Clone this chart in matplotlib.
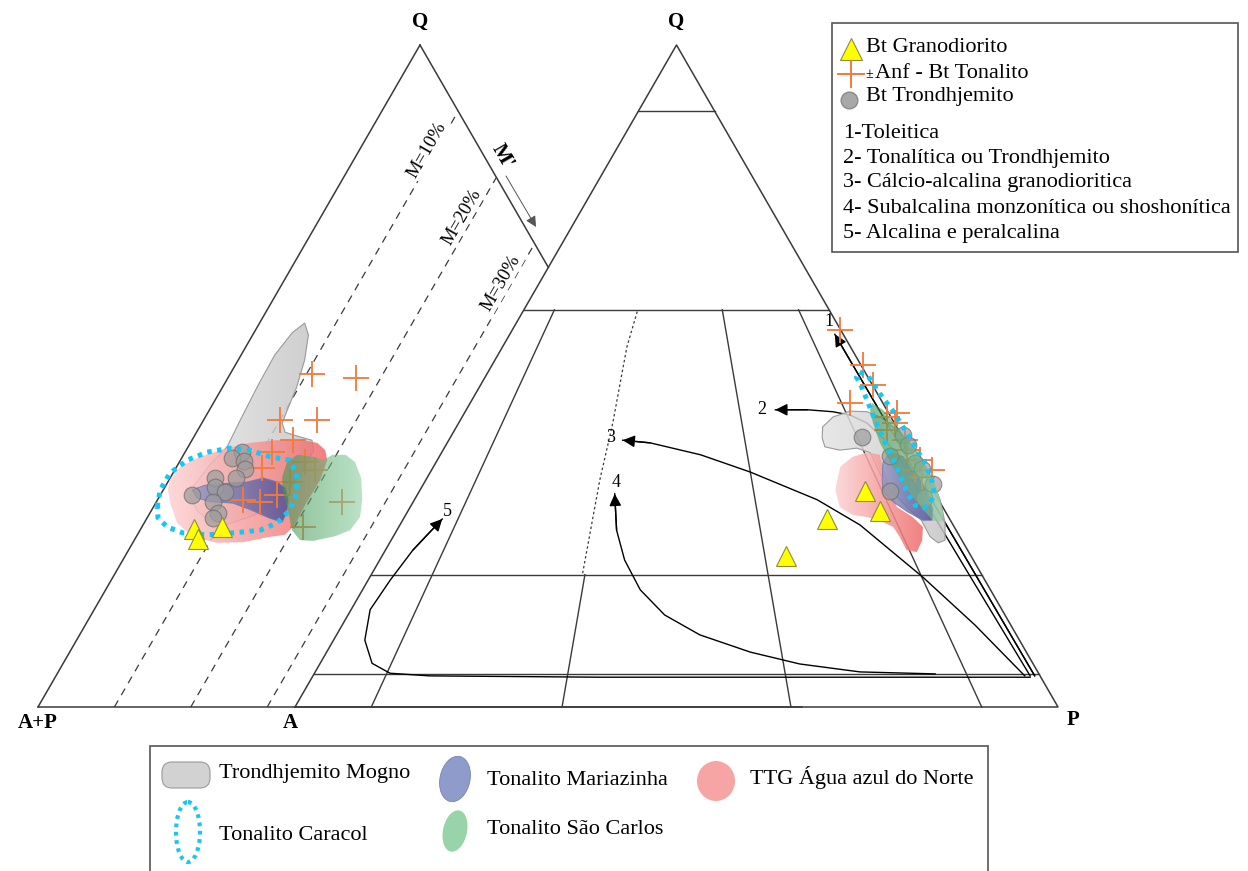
import numpy as np
import matplotlib.pyplot as plt
from matplotlib.patches import Polygon, Rectangle, Ellipse, FancyBboxPatch
from matplotlib.colors import LinearSegmentedColormap

plt.rcParams['font.family'] = ['Liberation Serif', 'DejaVu Serif']

# ---------------- Q - (A+P) - M diagram (left), values: Q %, M %
qm_grano_q = [26.9, 25.4, 27.2]
qm_grano_m = [7.0, 8.3, 10.5]
qm_ton_q = [50.3, 49.7, 43.4, 43.4, 40.3, 38.5, 36.1, 37.0, 35.8, 34.0, 31.3, 31.0, 32.0, 31.0, 27.2]
qm_ton_m = [10.7, 16.8, 10.0, 14.8, 13.2, 11.4, 11.3, 16.4, 18.4, 16.0, 11.2, 13.6, 15.3, 24.3, 21.1]
qm_tdj_q = [38.5, 37.6, 37.2, 36.0, 34.6, 33.2, 32.5, 34.6, 32.0, 31.0, 29.3, 28.5]
qm_tdj_m = [7.4, 6.6, 8.3, 9.1, 5.9, 6.6, 8.2, 8.6, 4.1, 7.4, 8.9, 8.6]

mogno_qm_q = [58.0, 56.2, 52.4, 48.3, 44.9, 42.9, 41.5, 40.8, 40.3, 38.8, 35.0, 31.3, 29.0, 27.6,
              27.9, 29.5, 31.6, 33.5, 36.6, 39.3, 43.4, 48.6, 53.2, 56.5]
mogno_qm_m = [5.9, 7.3, 8.7, 9.7, 10.2, 10.5, 11.6, 13.9, 15.7, 16.7, 16.8, 16.0, 13.9, 11.0,
              8.8, 6.2, 4.1, 3.7, 4.2, 5.1, 4.8, 4.5, 4.4, 5.0]
ttg_qm_q = [34.3, 36.3, 37.8, 39.1, 39.9, 40.3, 40.3, 39.9, 38.8, 37.3, 34.3, 30.5, 27.5, 26.0,
            25.7, 24.9, 24.8, 25.7, 27.8, 30.8, 32.8]
ttg_qm_m = [0.1, 0.5, 2.3, 5.2, 7.8, 11.1, 14.5, 16.6, 18.2, 19.2, 19.8, 19.7, 19.9, 19.3,
            17.5, 14.4, 11.0, 7.4, 4.3, 1.9, 0.6]
scarlos_qm_q = [34.7, 37.0, 38.1, 37.8, 37.3, 38.1, 38.1, 37.0, 34.6, 31.3, 28.7, 26.7, 25.8,
                25.1, 25.2, 26.7, 29.8, 32.5]
scarlos_qm_m = [14.6, 14.1, 14.9, 17.1, 18.7, 19.5, 21.2, 23.0, 25.0, 26.8, 27.8, 27.5, 26.0,
                23.5, 21.7, 19.9, 17.8, 15.8]
mariaz_qm_q = [32.8, 33.5, 33.8, 34.0, 34.6, 34.0, 33.1, 31.3, 29.3, 27.9, 28.5, 29.8, 30.8, 31.0, 31.6]
mariaz_qm_m = [3.8, 5.1, 7.8, 10.4, 12.2, 14.3, 15.8, 17.1, 17.9, 18.0, 16.1, 12.9, 10.1, 7.0, 5.0]
caracol_qm_q = [30.2, 32.8, 35.3, 37.3, 38.5, 39.1, 38.8, 37.8, 37.3, 35.3, 32.3, 29.8, 27.8,
                26.7, 26.3, 26.0, 26.3, 27.2, 28.6]
caracol_qm_m = [0.5, -0.4, -0.4, 0.9, 2.9, 5.6, 8.3, 11.5, 14.3, 16.2, 17.7, 18.1, 17.4,
                15.7, 12.4, 9.1, 5.8, 3.3, 1.4]
m_lines = [10, 20, 30]

# ---------------- Q - A - P diagram (right), values: Q %, P %
qap_grano_q = [32.6, 29.6, 28.4, 22.8]
qap_grano_p = [58.4, 61.9, 55.5, 53.0]
qap_ton_q = [57.0, 51.7, 48.6, 45.9, 43.8, 44.4, 42.9, 41.8, 38.8, 37.3, 34.7, 35.8, 40.3, 35.8]
qap_ton_p = [42.9, 48.6, 51.4, 49.8, 55.7, 56.7, 57.2, 56.7, 60.8, 63.3, 64.8, 65.6, 59.8, 63.4]
qap_tdj_q = [40.8, 37.9, 41.1, 39.6, 36.9, 36.0, 33.7, 32.6, 31.6]
qap_tdj_p = [53.9, 59.0, 59.1, 60.6, 62.8, 64.2, 66.8, 61.7, 66.7]

mogno_qap_q = [40.6, 42.3, 43.8, 44.7, 44.6, 43.8, 41.8, 39.3, 35.3, 31.3, 27.8, 25.2, 24.8,
               25.7, 28.2, 30.2, 32.8, 35.3, 38.4, 39.1, 38.8, 39.3]
mogno_qap_p = [48.8, 48.0, 48.6, 50.4, 52.7, 54.8, 58.0, 61.4, 65.5, 68.9, 71.3, 72.6, 71.9,
               70.4, 68.0, 65.1, 61.6, 59.0, 56.2, 54.1, 52.0, 49.8]
ttg_qap_q = [36.3, 37.8, 38.5, 38.1, 36.3, 30.2, 28.7, 27.2, 25.2, 23.4, 23.7, 25.7, 27.2,
             28.2, 28.7, 29.0, 30.2, 32.8]
ttg_qap_p = [53.3, 54.2, 55.8, 57.6, 58.9, 63.8, 66.6, 68.7, 69.6, 69.8, 68.3, 66.4, 64.8,
             62.5, 60.6, 58.6, 56.3, 54.4]
scarlos_qap_q = [45.9, 44.9, 41.8, 37.8, 33.2, 29.3, 27.9, 28.2, 29.8, 32.8, 36.9, 39.9, 42.9, 44.9]
scarlos_qap_p = [52.7, 54.6, 58.4, 63.0, 67.5, 70.3, 70.8, 69.5, 67.4, 63.8, 59.6, 56.7, 54.3, 52.9]
mariaz_qap_q = [34.3, 36.9, 38.5, 37.8, 35.3, 32.3, 29.8, 28.2, 28.2, 29.5, 31.0, 32.5]
mariaz_qap_p = [59.8, 58.6, 58.7, 60.8, 63.8, 66.8, 68.7, 69.4, 68.2, 65.5, 62.9, 60.8]
caracol_qap_q = [50.6, 50.0, 47.4, 44.9, 41.4, 38.8, 36.9, 34.3, 32.3, 30.8, 30.1, 30.5, 32.2,
                 34.3, 36.4, 39.6, 43.4, 46.7, 48.8, 49.8]
caracol_qap_p = [48.7, 50.1, 52.9, 55.8, 59.5, 62.1, 64.1, 66.3, 67.6, 67.9, 67.3, 66.0, 64.2,
                 62.4, 60.6, 57.7, 54.3, 51.5, 49.7, 48.7]

# Streckeisen divisions: Q levels and P/(A+P) ratios (ratio, top Q)
q_levels = [90, 60, 20, 5]
ratio_lines = [(10, 60), (35, 20), (65, 60), (90, 60)]

# series trends (Lameyre & Bowden), Q %, P %
trend1_q = [4.7, 56.3]
trend1_p = [94.6, 42.6]
trend2_q = [4.7, 22.2, 38.1, 40.6, 42.9, 44.1, 44.6, 44.9, 44.9]
trend2_p = [94.0, 76.1, 59.9, 56.8, 53.5, 50.7, 48.2, 44.7, 40.5]
trend3_q = [4.7, 12.4, 19.6, 27.5, 31.3, 35.5, 38.1, 39.9, 40.3]
trend3_p = [93.3, 82.9, 72.5, 60.3, 52.8, 41.9, 34.1, 26.6, 22.8]
trend4_q = [5.0, 5.3, 6.5, 8.3, 10.9, 13.9, 17.7, 22.2, 26.7, 32.2]
trend4_p = [81.4, 71.4, 62.9, 55.5, 47.6, 41.5, 36.4, 32.1, 28.8, 25.8]
trend5_q = [4.5, 4.5, 4.7, 5.1, 6.6, 10.1, 14.7, 19.2, 23.7, 28.4]
trend5_p = [94.1, 37.7, 15.3, 9.9, 6.8, 4.1, 2.5, 2.9, 3.6, 5.1]
bound34_q = [20.2, 34.3, 42.9, 54.4, 60.1]
bound34_p = [27.6, 22.8, 20.2, 16.3, 14.9]

legend_top = ['Bt Granodiorito', 'Anf - Bt Tonalito', 'Bt Trondhjemito']
trend_names = ['1-Toleitica', '2- Tonalítica ou Trondhjemito', '3- Cálcio-alcalina granodioritica',
               '4- Subalcalina monzonítica ou shoshonítica', '5- Alcalina e peralcalina']


def qm_xy(q, m):
    q = np.asarray(q, float) / 100
    m = np.asarray(m, float) / 100
    return 38 + 382 * q + 764 * m, 707 - 662 * q


def qap_xy(q, p):
    q = np.asarray(q, float) / 100
    p = np.asarray(p, float) / 100
    return 295 + 381.5 * q + 763 * p, 707 - 662 * q


fig = plt.figure(figsize=(12.48, 8.71), dpi=100)
ax = fig.add_axes([0, 0, 1, 1])
LC = '#3a3a3a'


def grad_patch(x, y, c0, c1, alpha, z, ec='none', lw=0.8):
    poly = Polygon(np.column_stack([x, y]), closed=True, fc='none', ec=ec, lw=lw, zorder=z + 0.05)
    ax.add_patch(poly)
    cmap = LinearSegmentedColormap.from_list('g', [c0, c1])
    g = np.linspace(0, 1, 64).reshape(1, -1)
    im = ax.imshow(g, cmap=cmap, alpha=alpha, zorder=z, aspect='auto', interpolation='bilinear',
                   extent=(x.min(), x.max(), y.max(), y.min()))
    im.set_clip_path(poly)


def arrow_end(x, y):
    ax.annotate('', xy=(x[-1], y[-1]), xytext=(x[-2], y[-2]),
                arrowprops=dict(arrowstyle='-|>', color='k', lw=1.0, mutation_scale=18,
                                shrinkA=0, shrinkB=0), zorder=6)


# ---------------- left triangle
x, y = qm_xy([0, 100], [0, 0])
ax.plot(x, y, color=LC, lw=1.1, zorder=3)
q_int = 100 * 507 / 763.5
x, y = qm_xy([100, q_int], [0, 100 - q_int])
ax.plot(x, y, color=LC, lw=1.1, zorder=3)
x, y = qm_xy([0, 0], [0, 100])
ax.plot(x, y, color=LC, lw=1.1, zorder=3)
for m in m_lines:
    x, y = qm_xy([0, 100 - m], [m, m])
    ax.plot(x, y, color=LC, lw=0.9, ls=(0, (6, 5)), zorder=3)
for lab, (tx, ty) in zip(['M=10%', 'M=20%', 'M=30%'], [(427, 150), (462, 217), (501, 283)]):
    ax.text(tx, ty, lab, rotation=60, fontsize=13.5, ha='center', va='center', zorder=4,
            bbox=dict(fc='white', ec='none', pad=0.5))
ax.text(502, 157, "M'", rotation=-60, fontsize=15, fontweight='bold', ha='center', va='center')
ax.annotate('', xy=(536, 227), xytext=(506, 176),
            arrowprops=dict(arrowstyle='-|>', color='#555', lw=0.7, mutation_scale=16,
                            shrinkA=0, shrinkB=0))

# ---------------- right triangle
x, y = qap_xy([0, 100, 0, 0], [0, 0, 100, 0])
ax.fill(x, y, color='white', zorder=1)
ax.plot(x, y, color=LC, lw=1.1, zorder=3)
for qv in q_levels:
    x, y = qap_xy([qv, qv], [0, 100 - qv])
    ax.plot(x, y, color=LC, lw=1.0, zorder=3)
for r, qt in ratio_lines:
    qs = np.array([0, qt])
    x, y = qap_xy(qs, r / 100 * (100 - qs))
    ax.plot(x, y, color=LC, lw=1.0, zorder=3)
x, y = qap_xy(bound34_q, bound34_p)
ax.plot(x, y, color=LC, lw=0.9, ls=(0, (2, 2)), zorder=3)

for tq, tp in [(trend1_q, trend1_p), (trend2_q, trend2_p), (trend3_q, trend3_p),
               (trend4_q, trend4_p), (trend5_q, trend5_p)]:
    x, y = qap_xy(tq, tp)
    ax.plot(x, y, color='k', lw=1.0, zorder=5, solid_joinstyle='round')
    arrow_end(x, y)
for lab, (tx, ty) in zip('12345', [(829, 321), (762, 409), (611, 437), (616, 482), (447, 511)]):
    ax.text(tx, ty, lab, fontsize=13, ha='center', va='center', zorder=6)

# ---------------- fields (both diagrams)
for conv, fq, fm, mq, mm, tq, tm, sq, sm, cq, cm in [
        (qm_xy, mogno_qm_q, mogno_qm_m, mariaz_qm_q, mariaz_qm_m, ttg_qm_q, ttg_qm_m,
         scarlos_qm_q, scarlos_qm_m, caracol_qm_q, caracol_qm_m),
        (qap_xy, mogno_qap_q, mogno_qap_p, mariaz_qap_q, mariaz_qap_p, ttg_qap_q, ttg_qap_p,
         scarlos_qap_q, scarlos_qap_p, caracol_qap_q, caracol_qap_p)]:
    x, y = conv(fq, fm)
    grad_patch(x, y, '#e4e4e4', '#c6c6c6', 0.85, 6, ec='#9a9a9a')
    x, y = conv(tq, tm)
    grad_patch(x, y, '#fcd2d2', '#f06a6a', 0.85, 6.2)
    x, y = conv(mq, mm)
    grad_patch(x, y, '#9097c4', '#4a4c96', 0.8, 6.4, ec='#7a7aa8', lw=0.6)
    x, y = conv(sq, sm)
    grad_patch(x, y, '#3f9652', '#8ed0a2', 0.6, 7.5)
    x, y = conv(cq, cm)
    ax.fill(x, y, fc='none', ec='#18c6f2', lw=3.6, ls=(0, (0.9, 1.1)), closed=True, zorder=8)

# ---------------- samples
ORANGE = '#f37a3c'
for conv, gq, gm, tq, tm, dq, dm in [
        (qm_xy, qm_grano_q, qm_grano_m, qm_ton_q, qm_ton_m, qm_tdj_q, qm_tdj_m),
        (qap_xy, qap_grano_q, qap_grano_p, qap_ton_q, qap_ton_p, qap_tdj_q, qap_tdj_p)]:
    x, y = conv(tq, tm)
    ax.plot(x, y, '+', ms=19, mew=1.4, color=ORANGE, alpha=0.95, zorder=7)
    x, y = conv(dq, dm)
    ax.plot(x, y, 'o', ms=12, mfc='#9c9c9c', mec='#6a6a6a', mew=0.8, alpha=0.7, zorder=7.2)
    x, y = conv(gq, gm)
    ax.plot(x, y, '^', ms=15, mfc='#ffff00', mec='#8c8c40', mew=0.8, zorder=9)

# ---------------- vertex labels
for tx, ty, lab in [(420, 22, 'Q'), (676, 22, 'Q'), (38, 723, 'A+P'), (290, 723, 'A'), (1073, 720, 'P')]:
    ax.text(tx, ty, lab, fontsize=15, fontweight='bold', ha='center', va='center')

# ---------------- legend (top right)
ax.add_patch(Rectangle((832, 23), 406, 229, fc='white', ec='#555', lw=1.2, zorder=2))
ax.plot(851, 49, '^', ms=16, mfc='#ffff00', mec='#8c8c40', mew=0.8, zorder=3)
ax.plot(851, 74, '+', ms=20, mew=1.4, color=ORANGE, zorder=3)
ax.plot(849, 100, 'o', ms=12, mfc='#a8a8a8', mec='#8a8a8a', zorder=3)
ax.text(866, 48, legend_top[0], fontsize=16, va='center', zorder=3)
ax.text(865, 74, '±', fontsize=10, va='center', zorder=3)
ax.text(875, 73, legend_top[1], fontsize=16, va='center', zorder=3)
ax.text(866, 97, legend_top[2], fontsize=16, va='center', zorder=3)
for i, t in enumerate(trend_names):
    ax.text(843, 133 + 25 * i, t, fontsize=16, va='center', zorder=3)

# ---------------- legend (bottom)
ax.add_patch(Rectangle((150, 746), 838, 140, fc='white', ec='#555', lw=1.2, zorder=2))
ax.add_patch(FancyBboxPatch((165, 765), 42, 20, boxstyle='round,pad=3,rounding_size=10',
                            fc='#d2d2d2', ec='#9a9a9a', lw=0.8, zorder=3))
ax.add_patch(Ellipse((455, 779), 30, 46, angle=12, fc='#8f9bcb', ec='#7a84b0', lw=0.6, zorder=3))
ax.add_patch(Ellipse((716, 781), 38, 40, fc='#f7a4a4', ec='none', zorder=3))
ax.add_patch(Ellipse((188, 832), 24, 60, fc='none', ec='#18c6f2', lw=3, ls=(0, (0.9, 1.1)), zorder=3))
ax.add_patch(Ellipse((455, 831), 24, 42, angle=12, fc='#97d4a9', ec='none', zorder=3))
for tx, ty, t in [(219, 773, 'Trondhjemito Mogno'), (487, 780, 'Tonalito Mariazinha'),
                  (750, 777, 'TTG Água azul do Norte'), (219, 835, 'Tonalito Caracol'),
                  (487, 829, 'Tonalito São Carlos')]:
    ax.text(tx, ty, t, fontsize=16, va='center', zorder=4)

ax.set_xlim(0, 1248)
ax.set_ylim(871, 0)
ax.axis('off')
fig.savefig('out.png', dpi=100)
